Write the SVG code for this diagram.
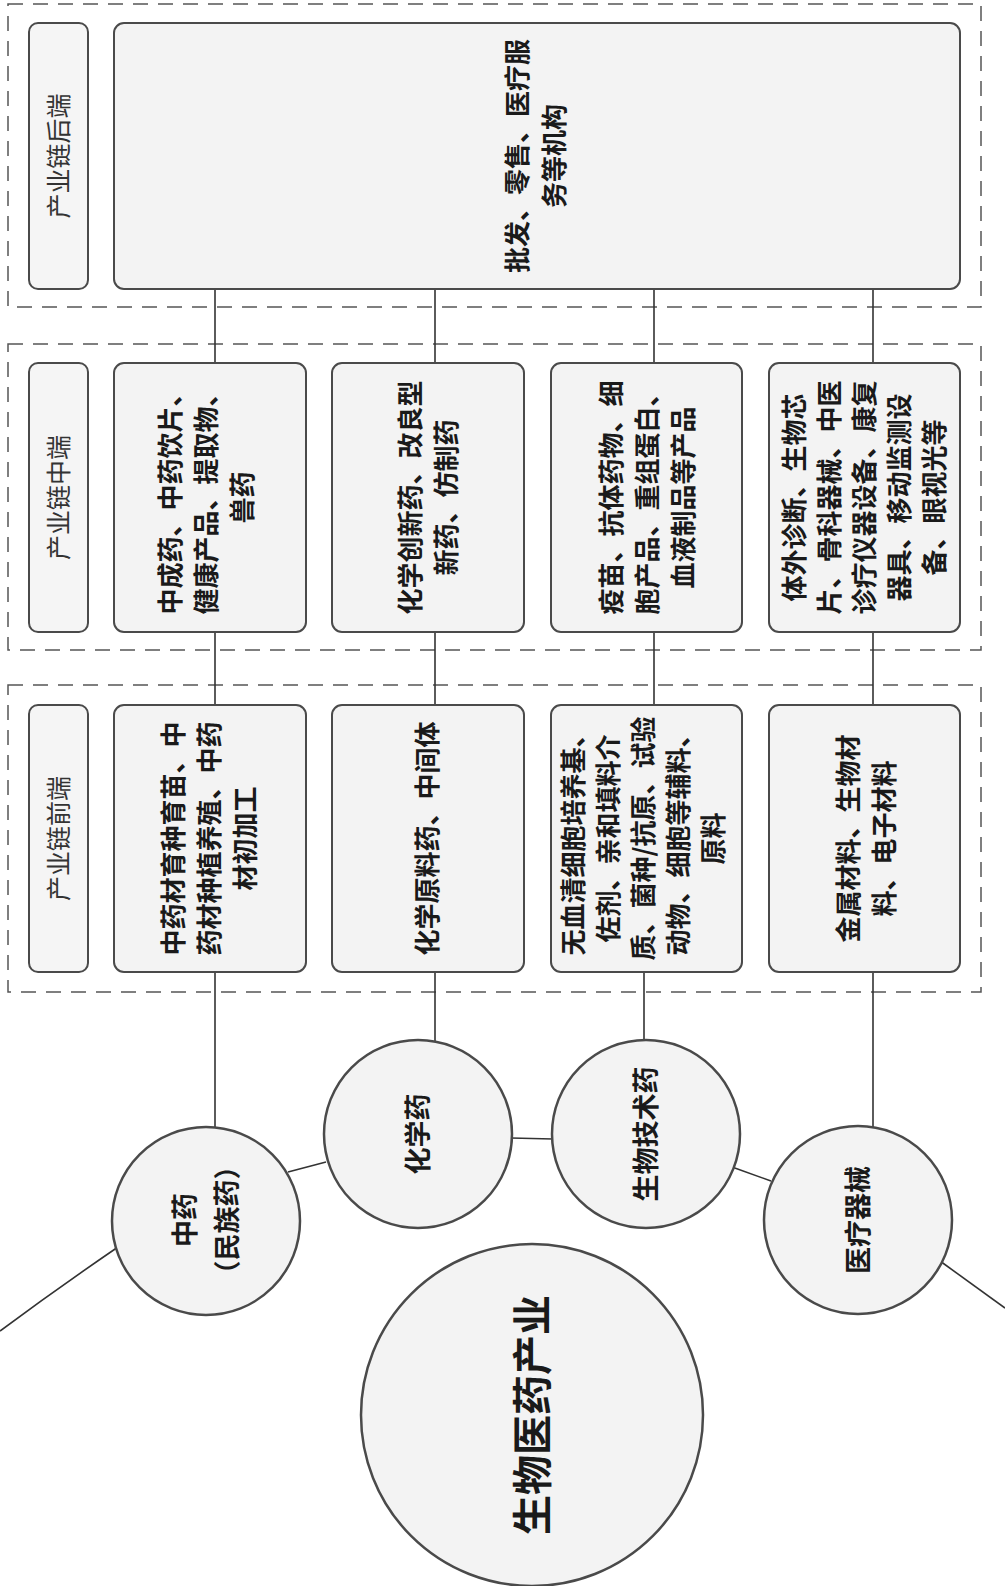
<svg xmlns="http://www.w3.org/2000/svg" width="1005" height="1586" viewBox="0 0 1005 1586">
<style>
.bg{fill:#ffffff}
.zone{fill:none;stroke:#555;stroke-width:1.5;stroke-dasharray:15 10}
.box{fill:#f3f3f3;stroke:#4a4a4a;stroke-width:2}
.lab{fill:#f5f5f5;stroke:#4a4a4a;stroke-width:2}
.circ{fill:#f3f3f3;stroke:#4a4a4a;stroke-width:2.5}
.con{fill:none;stroke:#333;stroke-width:1.6}
.t{font-family:"Noto Sans CJK SC","Noto Sans",sans-serif;font-size:26px;font-weight:bold;fill:#1a1a1a;text-anchor:middle}
.lt{font-family:"Noto Sans CJK SC","Noto Sans",sans-serif;font-size:25px;font-weight:normal;fill:#333;text-anchor:middle}
.ct{font-family:"Noto Sans CJK SC","Noto Sans",sans-serif;font-size:27px;font-weight:bold;fill:#1a1a1a;text-anchor:middle}
.big{font-family:"Noto Sans CJK SC","Noto Sans",sans-serif;font-size:40px;font-weight:bold;fill:#1a1a1a;text-anchor:middle}
</style>
<rect class="bg" x="0" y="0" width="1005" height="1586"/>

<g id="zones">
<rect class="zone" x="8" y="4" width="973" height="303"/>
<rect class="zone" x="8" y="344" width="973" height="306"/>
<rect class="zone" x="8" y="685" width="973" height="307"/>
</g>

<g id="connectors">
<line class="con" x1="215" y1="289" x2="215" y2="1128"/>
<line class="con" x1="435" y1="289" x2="435" y2="1043"/>
<line class="con" x1="654" y1="289" x2="654" y2="705"/>
<line class="con" x1="644" y1="972" x2="644" y2="1043"/>
<line class="con" x1="873" y1="289" x2="873" y2="1129"/>
<path class="con" d="M0,1331 Q58,1288 118,1247"/>
<path class="con" d="M288,1172 L326,1162"/>
<path class="con" d="M511,1138 L553,1139"/>
<path class="con" d="M732,1167 L771,1181"/>
<path class="con" d="M940,1261 L1005,1308"/>
</g>

<g id="back-label">
<rect class="lab" x="29" y="23" width="59" height="266" rx="9"/>
<text class="lt" transform="translate(58.5 156) rotate(-90)" x="0" y="9">产业链后端</text>
</g>
<g id="back-box">
<rect class="box" x="114" y="23" width="846" height="266" rx="10"/>
<text class="t" transform="translate(536 156) rotate(-90)"><tspan x="0" y="-8.9">批发、零售、医疗服</tspan><tspan x="0" y="28.1">务等机构</tspan></text>
</g>

<g id="mid-label">
<rect class="lab" x="29" y="363" width="59" height="269" rx="9"/>
<text class="lt" transform="translate(58.5 497.5) rotate(-90)" x="0" y="9">产业链中端</text>
</g>
<g id="mid-1">
<rect class="box" x="114" y="363" width="192" height="269" rx="10"/>
<text class="t" transform="translate(206 497.5) rotate(-90)"><tspan x="0" y="-26.4">中成药、中药饮片、</tspan><tspan x="0" y="9.6">健康产品、提取物、</tspan><tspan x="0" y="45.6">兽药</tspan></text>
</g>
<g id="mid-2">
<rect class="box" x="332" y="363" width="192" height="269" rx="10"/>
<text class="t" transform="translate(428 497.5) rotate(-90)"><tspan x="0" y="-8.4">化学创新药、改良型</tspan><tspan x="0" y="27.6">新药、仿制药</tspan></text>
</g>
<g id="mid-3">
<rect class="box" x="551" y="363" width="191" height="269" rx="10"/>
<text class="t" transform="translate(647 497.5) rotate(-90)"><tspan x="0" y="-26.4">疫苗、抗体药物、细</tspan><tspan x="0" y="9.6">胞产品、重组蛋白、</tspan><tspan x="0" y="45.6">血液制品等产品</tspan></text>
</g>
<g id="mid-4">
<rect class="box" x="769" y="363" width="191" height="269" rx="10"/>
<text class="t" transform="translate(864 497.5) rotate(-90)"><tspan x="0" y="-60.4">体外诊断、生物芯</tspan><tspan x="0" y="-25.4">片、骨科器械、中医</tspan><tspan x="0" y="9.6">诊疗仪器设备、康复</tspan><tspan x="0" y="44.6">器具、移动监测设</tspan><tspan x="0" y="79.6">备、眼视光等</tspan></text>
</g>

<g id="front-label">
<rect class="lab" x="29" y="705" width="59" height="267" rx="9"/>
<text class="lt" transform="translate(58.5 838.5) rotate(-90)" x="0" y="9">产业链前端</text>
</g>
<g id="front-1">
<rect class="box" x="114" y="705" width="192" height="267" rx="10"/>
<text class="t" transform="translate(209 838.5) rotate(-90)"><tspan x="0" y="-26.4">中药材育种育苗、中</tspan><tspan x="0" y="9.6">药材种植养殖、中药</tspan><tspan x="0" y="45.6">材初加工</tspan></text>
</g>
<g id="front-2">
<rect class="box" x="332" y="705" width="192" height="267" rx="10"/>
<text class="t" transform="translate(427 838.5) rotate(-90)" x="0" y="9.6">化学原料药、中间体</text>
</g>
<g id="front-3">
<rect class="box" x="551" y="705" width="191" height="267" rx="10"/>
<text class="t" transform="translate(643 838.5) rotate(-90)"><tspan x="0" y="-60.4">无血清细胞培养基、</tspan><tspan x="0" y="-25.4">佐剂、亲和填料介</tspan><tspan x="0" y="9.6">质、菌种/抗原、试验</tspan><tspan x="0" y="44.6">动物、细胞等辅料、</tspan><tspan x="0" y="79.6">原料</tspan></text>
</g>
<g id="front-4">
<rect class="box" x="769" y="705" width="191" height="267" rx="10"/>
<text class="t" transform="translate(866 838.5) rotate(-90)"><tspan x="0" y="-8.4">金属材料、生物材</tspan><tspan x="0" y="27.6">料、电子材料</tspan></text>
</g>

<g id="tcm">
<circle class="circ" cx="206" cy="1221" r="94"/>
<text class="ct" transform="translate(206 1220) rotate(-90)"><tspan x="0" y="-11">中药</tspan><tspan x="0" y="31">（民族药）</tspan></text>
</g>
<g id="chem">
<circle class="circ" cx="418" cy="1134" r="94"/>
<text class="ct" transform="translate(418 1134) rotate(-90)" x="0" y="10">化学药</text>
</g>
<g id="bio">
<circle class="circ" cx="646" cy="1134" r="94"/>
<text class="ct" transform="translate(646 1134) rotate(-90)" x="0" y="10">生物技术药</text>
</g>
<g id="device">
<circle class="circ" cx="858" cy="1220" r="94"/>
<text class="ct" transform="translate(858 1220) rotate(-90)" x="0" y="10">医疗器械</text>
</g>
<g id="center">
<circle class="circ" cx="532" cy="1415" r="171"/>
<text class="big" transform="translate(532 1415) rotate(-90)" x="0" y="15">生物医药产业</text>
</g>
</svg>
